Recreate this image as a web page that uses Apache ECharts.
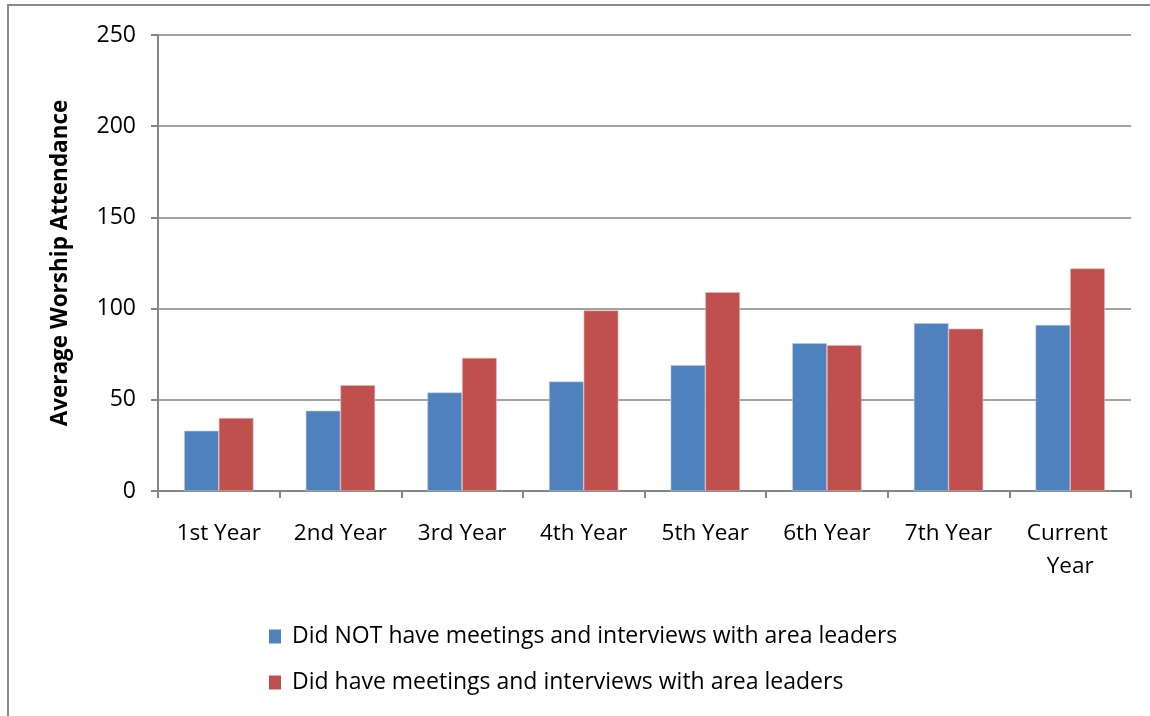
<!DOCTYPE html>
<html>
<head>
<meta charset="utf-8">
<script src="https://cdn.jsdelivr.net/npm/echarts@6/dist/echarts.min.js"></script>
<style>
  html, body { margin: 0; padding: 0; background: #fff; }
  #wrap { position: relative; width: 1150px; height: 716px; }
  #chart { width: 1150px; height: 716px; }
  #frame { position: absolute; left: 7px; top: 4px; right: -10px; bottom: -10px;
           border-left: 2px solid #898989; border-top: 2px solid #898989; pointer-events: none; }
</style>
</head>
<body>
<div id="wrap">
  <div id="chart"></div>
  <div id="frame"></div>
</div>
<script>
var categories = ['1st Year', '2nd Year', '3rd Year', '4th Year', '5th Year', '6th Year', '7th Year', 'Current Year'];
var noMeetings = [33, 44, 54, 60, 69, 81, 92, 91];
var withMeetings = [40, 58, 73, 99, 109, 80, 89, 122];
var seriesNames = ['Did NOT have meetings and interviews with area leaders', 'Did have meetings and interviews with area leaders'];

var font = 'Open Sans, Liberation Sans, Arial, sans-serif';
var myChart = echarts.init(document.getElementById('chart'));
myChart.setOption({
    animation: false,
    textStyle: { fontFamily: font },
    grid: { left: 158, right: 19, top: 35, bottom: 225 },
    legend: {
        orient: 'vertical',
        left: 264,
        top: 620,
        itemGap: 23,
        itemWidth: 12,
        itemHeight: 14,
        icon: 'rect',
        itemStyle: { borderWidth: 0 },
        textStyle: { fontSize: 23, color: '#000', fontFamily: font, padding: [0, 0, 0, 6] },
        data: seriesNames
    },
    xAxis: {
        type: 'category',
        data: categories,
        axisLine: { lineStyle: { color: '#868686', width: 2 } },
        axisTick: { show: true, inside: false, length: 7, lineStyle: { color: '#868686', width: 2 } },
        axisLabel: {
            color: '#000', fontSize: 22.5, margin: 26, lineHeight: 33,
            interval: 0, width: 110, overflow: 'break', align: 'center'
        }
    },
    yAxis: {
        type: 'value',
        min: 0, max: 250, interval: 50,
        name: 'Average Worship Attendance',
        nameLocation: 'middle',
        nameGap: 86,
        nameTextStyle: { fontSize: 22.5, fontWeight: 'bold', color: '#000' },
        axisLine: { show: true, lineStyle: { color: '#868686', width: 2 } },
        axisTick: { show: true, length: 7, lineStyle: { color: '#868686', width: 2 } },
        axisLabel: { color: '#000', fontSize: 23, margin: 22 },
        splitLine: { lineStyle: { color: '#868686', width: 1.5 } }
    },
    series: [{
        name: seriesNames[0],
        type: 'bar',
        data: noMeetings,
        barGap: '0%',
        barCategoryGap: '43%',
        itemStyle: { color: '#4F81BD', borderColor: '#B9CDE5', borderWidth: 0.6 }
    }, {
        name: seriesNames[1],
        type: 'bar',
        data: withMeetings,
        barGap: '0%',
        barCategoryGap: '43%',
        itemStyle: { color: '#C0504D', borderColor: '#E6B9B8', borderWidth: 0.6 }
    }]
});
</script>
</body>
</html>
